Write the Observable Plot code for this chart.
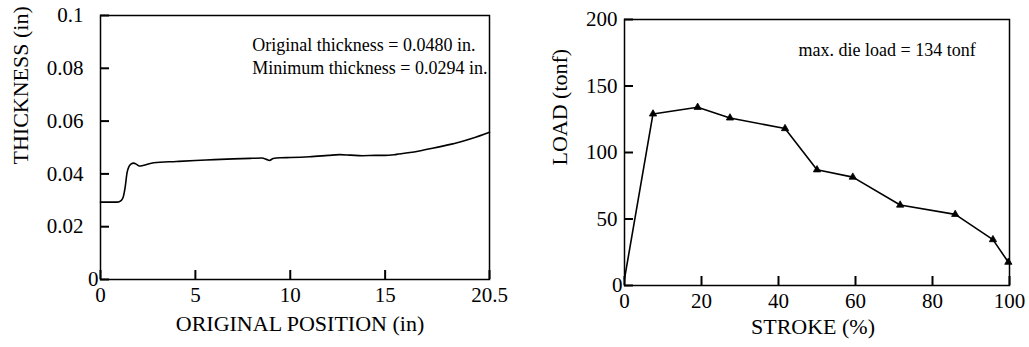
<!DOCTYPE html>
<html><head><meta charset="utf-8">
<script src="https://cdn.jsdelivr.net/npm/d3@7"></script>
<script src="https://cdn.jsdelivr.net/npm/@observablehq/plot@0.6"></script>
<style>
body{margin:0;background:#fff;}
#wrap{position:relative;width:1029px;height:347px;background:#fff;}
#left{position:absolute;left:0;top:0;}
#right{position:absolute;left:515px;top:0;}
</style></head><body><div id="wrap"><div id="left"></div><div id="right"></div></div>
<script>
// Left chart: thickness profile
const positionIn = [0, 0.5, 0.88, 1.1, 1.2, 1.3, 1.4, 1.5, 1.6, 1.75, 1.9, 2.05, 2.3, 2.8, 4.0, 5.0, 6.0, 7.0, 8.0, 8.5, 8.75, 8.9, 9.1, 9.5, 10.0, 11.0, 12.0, 12.6, 13.2, 13.8, 14.5, 15.0, 15.6, 16.2, 16.8, 17.5, 18.2, 18.9, 19.6, 20.5];
const thicknessIn = [0.0293, 0.0293, 0.0293, 0.0300, 0.0313, 0.0350, 0.0405, 0.0428, 0.0437, 0.0441, 0.0436, 0.0430, 0.0433, 0.0442, 0.0447, 0.0451, 0.0454, 0.0457, 0.0459, 0.0460, 0.0455, 0.0451, 0.0458, 0.0461, 0.0462, 0.0465, 0.0470, 0.0473, 0.0471, 0.0469, 0.0470, 0.0470, 0.0474, 0.0480, 0.0487, 0.0497, 0.0508, 0.0520, 0.0535, 0.0558];
const leftTicksX = [0, 5, 10, 15, 20.5];
const leftTickLabelsX = ["0", "5", "10", "15", "20.5"];
const leftTicksY = [0, 0.02, 0.04, 0.06, 0.08, 0.1];
const leftTickLabelsY = ["0", "0.02", "0.04", "0.06", "0.08", "0.1"];
const leftNotes = ["Original thickness = 0.0480 in.", "Minimum thickness = 0.0294 in."];
const leftNoteX = [8.0, 8.0];
const leftNoteY = [0.0886, 0.0799];

// Right chart: die load vs stroke
const strokePct = [0, 7.4, 19.0, 27.4, 41.7, 50.0, 59.3, 71.6, 85.9, 95.7, 99.7];
const loadTonf = [5, 129, 134, 126, 118, 87, 81.5, 60.5, 53.5, 34.5, 17.5];
const rightTicksX = [0, 20, 40, 60, 80, 100];
const rightTickLabelsX = ["0", "20", "40", "60", "80", "100"];
const rightTicksY = [0, 50, 100, 150, 200];
const rightTickLabelsY = ["0", "50", "100", "150", "200"];
const rightNotes = ["max. die load = 134 tonf"];
const rightNoteX = [45.2];
const rightNoteY = [177];

const font = "'Liberation Serif', 'Times New Roman', serif";
const style = {fontFamily: font, fontSize: "21px", color: "black", background: "white"};

const leftData = positionIn.map((x, i) => ({x, y: thicknessIn[i]}));
const leftNoteData = leftNotes.map((t, i) => ({t, x: leftNoteX[i], y: leftNoteY[i]}));
const rightData = strokePct.map((x, i) => ({x, y: loadTonf[i]}));
const rightNoteData = rightNotes.map((t, i) => ({t, x: rightNoteX[i], y: rightNoteY[i]}));

const labeler = (ticks, labels) => d => labels[ticks.indexOf(d)];
const TICK = 9;

function chart({width, height, mL, mR, mT, mB, xDom, yDom, tx, txl, ty, tyl, yPad, marks}) {
  const fw = width - mL - mR, fh = height - mT - mB;
  return Plot.plot({
    width, height, marginLeft: mL, marginRight: mR, marginTop: mT, marginBottom: mB,
    style,
    x: {domain: xDom},
    y: {domain: yDom},
    marks: [
      Plot.frame({stroke: "black", strokeWidth: 1.5}),
      // inward tick marks
      Plot.tickX(tx, {x: d => d, insetTop: fh - TICK, stroke: "black", strokeWidth: 2}),
      Plot.tickY(ty, {y: d => d, insetRight: fw - TICK, stroke: "black", strokeWidth: 2}),
      // tick labels
      Plot.axisX(tx, {tickSize: 0, tickPadding: 8, label: null, fontSize: 21, tickFormat: labeler(tx, txl)}),
      Plot.axisY(ty.filter(d => d !== 0), {tickSize: 0, tickPadding: yPad, label: null, fontSize: 21, tickFormat: labeler(ty, tyl)}),
      Plot.axisY([0], {tickSize: 0, tickPadding: 2, label: null, fontSize: 21, tickFormat: labeler(ty, tyl)}),
      ...marks
    ]
  });
}

const left = chart({
  width: 515, height: 347, mL: 100, mR: 26, mT: 15, mB: 68,
  xDom: [0, 20.5], yDom: [0, 0.1],
  tx: leftTicksX, txl: leftTickLabelsX, ty: leftTicksY, tyl: leftTickLabelsY, yPad: 17,
  marks: [
    Plot.line(leftData, {x: "x", y: "y", stroke: "black", strokeWidth: 1.6, curve: "monotone-x"}),
    Plot.text(leftNoteData, {x: "x", y: "y", text: "t", textAnchor: "start", fontSize: 18, fill: "black"}),
    Plot.text(["ORIGINAL POSITION (in)"], {text: d => d, frameAnchor: "bottom", dy: 51, dx: 5, fontSize: 22, fill: "black"}),
    Plot.text(["THICKNESS (in)"], {text: d => d, frameAnchor: "left", rotate: -90, dx: -80, dy: 17, fontSize: 22, fill: "black"})
  ]
});
document.getElementById("left").append(left);

const right = chart({
  width: 514, height: 347, mL: 109, mR: 20, mT: 19, mB: 62,
  xDom: [0, 100], yDom: [0, 200],
  tx: rightTicksX, txl: rightTickLabelsX, ty: rightTicksY, tyl: rightTickLabelsY, yPad: 7,
  marks: [
    Plot.line(rightData, {x: "x", y: "y", stroke: "black", strokeWidth: 1.6}),
    Plot.dot(rightData.slice(1), {x: "x", y: "y", symbol: "triangle", r: 2.7, fill: "black", stroke: "black", strokeWidth: 0.8}),
    Plot.text(rightNoteData, {x: "x", y: "y", text: "t", textAnchor: "start", fontSize: 18, fill: "black"}),
    Plot.text(["STROKE (%)"], {text: d => d, frameAnchor: "bottom", dy: 48, dx: -4, fontSize: 22, fill: "black"}),
    Plot.text(["LOAD (tonf)"], {text: d => d, frameAnchor: "left", rotate: -90, dx: -65, dy: 13, fontSize: 22, fill: "black"})
  ]
});
document.getElementById("right").append(right);
</script>
</body></html>
